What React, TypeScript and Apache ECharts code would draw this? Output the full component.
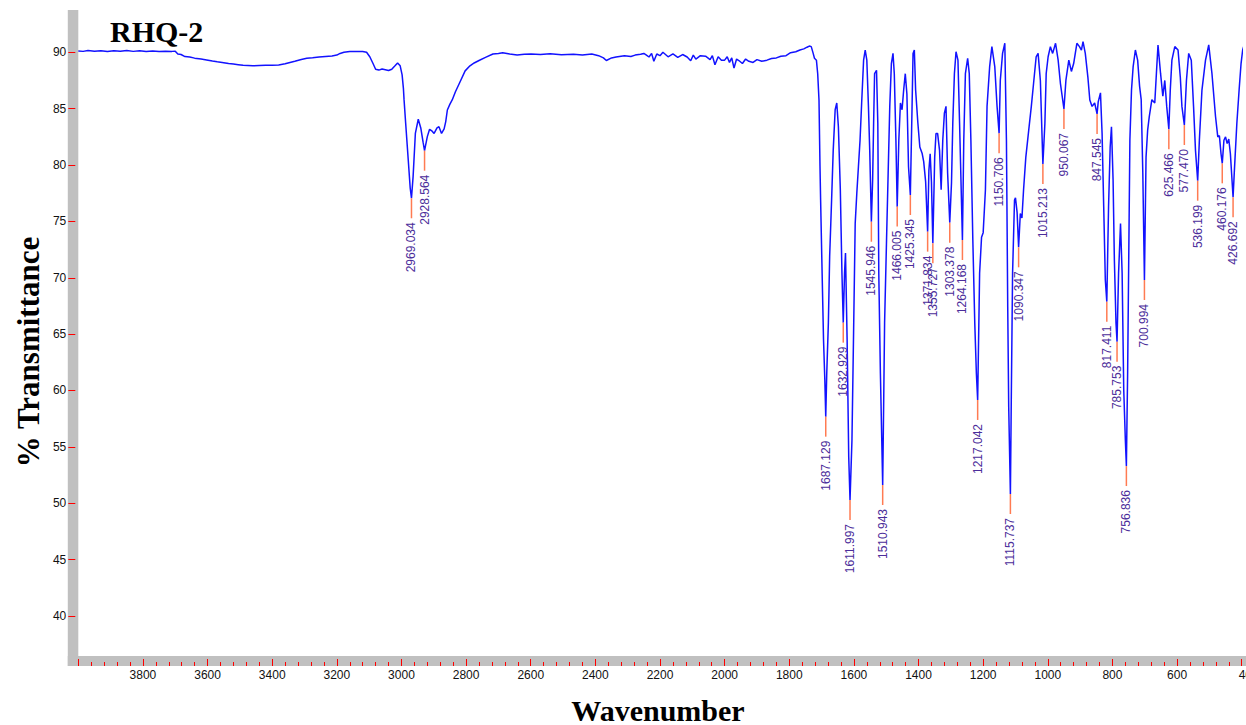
import React, { useEffect, useRef } from "react";
import * as echarts from "echarts";

// FT-IR spectrum of sample RHQ-2: [wavenumber (cm-1), % transmittance]
const baselineRegion: [number, number][] = [
  [4000, 90.12], [3985, 90.08], [3970, 90.16], [3950, 90.1], [3930, 90.14], [3910, 90.06],
  [3890, 90.14], [3870, 90.1], [3850, 90.15], [3830, 90.08], [3810, 90.13], [3790, 90.07],
  [3770, 90.12], [3750, 90.06], [3730, 90.1], [3710, 90.08], [3700, 90.1], [3692, 89.85],
  [3682, 89.8], [3670, 89.62], [3655, 89.58], [3640, 89.48], [3620, 89.4], [3603, 89.32],
  [3585, 89.22], [3570, 89.15], [3550, 89.08], [3535, 89.0], [3520, 88.95], [3505, 88.9],
  [3490, 88.84], [3475, 88.82], [3460, 88.8], [3440, 88.83], [3420, 88.86], [3400, 88.84],
  [3380, 88.88], [3360, 88.98], [3345, 89.1], [3330, 89.2], [3310, 89.36], [3293, 89.47],
  [3275, 89.52], [3255, 89.58], [3235, 89.63], [3215, 89.68], [3200, 89.75], [3190, 89.9],
  [3178, 90.0], [3160, 90.06], [3140, 90.08], [3120, 90.06], [3108, 90.0], [3098, 89.6],
  [3088, 89.0], [3080, 88.5], [3070, 88.42], [3060, 88.52], [3050, 88.45], [3040, 88.38],
  [3030, 88.5], [3020, 88.8], [3012, 89.05], [3004, 88.8], [2998, 88.0], [2994, 86.8],
];

const stretchRegion: [number, number][] = [
  [2992, 85.8], [2987, 83.7], [2979, 80.45], [2973, 77.96], [2969.034, 77.05], [2964, 78.97],
  [2957, 82.8], [2948, 84.06], [2940, 83.26], [2933, 82.0], [2928.564, 81.27], [2920, 82.52],
  [2913, 83.17], [2905, 83.0], [2899, 82.8], [2890, 83.3], [2884, 83.4], [2876, 82.8],
  [2868, 83.2], [2863, 83.85], [2858, 84.88], [2850, 85.4], [2843, 85.77], [2833, 86.5],
  [2820, 87.3], [2803, 88.35], [2788, 88.8], [2775, 89.05], [2760, 89.27], [2740, 89.55],
  [2717, 89.85], [2700, 89.9], [2687, 89.96], [2665, 89.85], [2642, 89.75], [2620, 89.82],
  [2599, 89.85], [2570, 89.8], [2540, 89.86], [2505, 89.78], [2468, 89.82], [2440, 89.76],
  [2411, 89.85], [2390, 89.7], [2375, 89.5], [2366, 89.27], [2350, 89.5], [2336, 89.58],
  [2310, 89.7], [2290, 89.62], [2277, 89.75], [2260, 89.82], [2250, 89.9], [2242, 89.75],
  [2234, 89.58], [2226, 89.9], [2219, 89.2], [2210, 89.85], [2200, 89.7], [2191, 90.0],
  [2175, 89.6], [2160, 89.85], [2145, 89.55], [2130, 89.8], [2116, 89.58], [2105, 89.25],
  [2097, 89.75], [2089, 89.4], [2075, 89.7], [2059, 89.65], [2045, 89.35], [2038, 89.7],
  [2030, 88.9], [2020, 89.6], [2010, 89.3], [2000, 89.3], [1992, 89.6], [1985, 89.1],
  [1978, 89.5], [1971, 88.6], [1963, 89.4], [1956, 89.27], [1945, 89.0], [1935, 89.4],
  [1925, 89.2], [1912, 89.1], [1900, 89.35], [1885, 89.2], [1869, 89.3], [1855, 89.45],
  [1840, 89.5], [1826, 89.65], [1810, 89.7], [1796, 89.96], [1780, 90.05], [1767, 90.2],
  [1755, 90.3], [1745, 90.45], [1738, 90.55],
];

const fingerprintRegion: [number, number][] = [
  [1732, 90.5], [1726, 89.9], [1722, 89.47], [1716, 89.3], [1712, 88.1], [1708, 85.77],
  [1705, 80.0], [1703, 76.9], [1699, 71.3], [1694, 64.5], [1690, 61.0], [1687.129, 57.68],
  [1684, 61.5], [1679, 66.0], [1675, 71.9], [1669, 76.9], [1664, 81.3], [1658, 84.9],
  [1653, 85.5], [1648, 83.4], [1642, 77.8], [1637, 70.4], [1632.929, 66.02], [1629, 70.4],
  [1626, 72.2], [1621, 64.5], [1616, 54.1], [1611.997, 50.29], [1606, 55.6], [1601, 65.1],
  [1596, 74.8], [1591, 77.5], [1586, 79.85], [1581, 82.2], [1576, 85.5], [1570, 89.3],
  [1565, 90.2], [1560, 89.3], [1555, 85.2], [1551, 81.3], [1545.946, 74.97], [1542, 78.7],
  [1539, 83.7], [1536, 88.1], [1530, 88.4], [1526, 83.7], [1523, 70.4], [1518, 61.5],
  [1510.943, 51.62], [1508, 58.6], [1505, 66.0], [1499, 73.35], [1494, 79.3], [1489, 85.2],
  [1484, 89.0], [1479, 89.9], [1475, 88.1], [1470, 82.2], [1466.005, 76.31], [1461, 82.2],
  [1456, 85.5], [1451, 84.9], [1446, 86.65], [1441, 88.1], [1436, 86.3], [1431, 79.85],
  [1425.345, 77.34], [1420, 85.2], [1417, 89.9], [1413, 90.2], [1409, 86.65], [1402, 83.7],
  [1396, 81.6], [1389, 81.05], [1384, 80.3], [1378, 78.5], [1371.834, 74.09], [1368, 79.5],
  [1364, 81.0], [1360, 78.5], [1355.727, 73.06], [1350, 80.7], [1346, 82.8], [1341, 82.8],
  [1335, 81.3], [1330, 77.8], [1325, 82.2], [1320, 84.6], [1315, 85.2], [1310, 79.3],
  [1303.378, 74.89], [1298, 78.4], [1294, 83.7], [1289, 88.1], [1284, 90.05], [1278, 89.3],
  [1273, 83.7], [1264.168, 73.35], [1260, 82.2], [1255, 88.1], [1248, 89.47], [1243, 88.1],
  [1238, 82.2], [1232, 73.35], [1226, 66.0], [1221, 61.5], [1217.042, 59.16], [1211, 70.4],
  [1205, 73.6], [1200, 74.0], [1193, 77.8], [1188, 85.2], [1180, 88.7], [1173, 90.5],
  [1164, 88.7], [1157, 85.2], [1150.706, 82.81], [1147, 87.5], [1140, 89.9], [1133, 90.8],
  [1128, 82.2], [1124, 67.4], [1121, 58.6], [1115.737, 50.82], [1113, 59.2], [1109, 70.4],
  [1103, 76.9], [1100, 77.1], [1095, 75.8], [1090.347, 72.7], [1085, 75.7], [1080, 75.3],
  [1075, 77.8], [1068, 80.7], [1059, 83.1], [1051, 85.2], [1044, 87.25], [1036, 89.6],
  [1030, 89.9], [1023, 87.5], [1015.213, 80.09], [1009, 83.7], [1005, 88.1], [999, 89.6],
  [992, 90.5], [985, 89.9], [976, 90.8], [968, 89.3], [961, 87.25], [950.067, 84.97],
  [944, 87.5], [935, 89.3], [927, 88.3], [920, 89.0], [910, 90.8], [902, 90.5],
  [896, 90.2], [891, 90.94], [884, 89.9], [876, 87.8], [870, 85.77], [863, 85.2],
  [855, 85.5], [847.545, 84.53], [844, 85.6], [837, 86.4], [832, 82.8], [827, 76.3],
  [822, 69.8], [817.411, 67.88], [812, 76.3], [807, 81.6], [803, 83.4], [798, 78.7],
  [794, 71.6], [789, 66.0], [785.753, 64.33], [781, 70.4], [775, 74.8], [770, 70.4],
  [765, 60.05], [760, 55.6], [756.836, 53.3], [753, 61.5], [749, 73.35], [746, 82.2],
  [741, 86.65], [736, 88.7], [729, 90.2], [722, 89.3], [716, 87.0], [711, 85.8],
  [706, 79.3], [700.994, 69.8], [696, 80.7], [691, 83.1], [686, 84.3], [678, 85.8],
  [669, 85.5], [664, 88.1], [659, 90.65], [651, 88.1], [644, 86.1], [638, 87.5],
  [632, 85.2], [625.466, 83.17], [621, 86.65], [616, 89.3], [607, 90.5], [597, 90.2],
  [590, 87.8], [585, 85.2], [577.47, 83.55], [571, 87.5], [564, 89.9], [556, 89.3],
  [549, 85.2], [543, 81.3], [536.199, 78.61], [531, 82.2], [523, 86.65], [512, 89.3],
  [502, 90.65], [492, 88.1], [481, 84.3], [474, 82.5], [469, 82.6], [464, 81.0],
  [460.176, 80.15], [455, 82.2], [450, 82.5], [445, 81.9], [440, 82.3], [435, 81.0],
  [426.692, 77.14], [423, 79.3], [415, 83.7], [408, 86.65], [402, 89.0], [397, 90.2],
  [393, 90.6],
];

// Picked absorption bands
const peakWavenumbers = [
  2969.034, 2928.564, 1687.129, 1632.929, 1611.997, 1545.946, 1510.943, 1466.005,
  1425.345, 1371.834, 1355.727, 1303.378, 1264.168, 1217.042, 1150.706, 1115.737,
  1090.347, 1015.213, 950.067, 847.545, 817.411, 785.753, 756.836, 700.994,
  625.466, 577.47, 536.199, 460.176, 426.692,
];
const peakTransmittance = [
  77.05, 81.27, 57.68, 66.02, 50.29, 74.97, 51.62, 76.31,
  77.34, 74.09, 73.06, 74.89, 73.35, 59.16, 82.81, 50.82,
  72.7, 80.09, 84.97, 84.53, 67.88, 64.33, 53.3, 69.8,
  83.17, 83.55, 78.61, 80.15, 77.14,
];

const yTickValues = [40, 45, 50, 55, 60, 65, 70, 75, 80, 85, 90];

const spectrum = [...baselineRegion, ...stretchRegion, ...fingerprintRegion];
const peaks = peakWavenumbers.map((w, i) => [w, peakTransmittance[i]]);

const SANS = "'Liberation Sans', Arial, sans-serif";
const SERIF = "'Liberation Serif', 'Times New Roman', serif";
const FRAME = "#c0c0c0";
const TICK = "#ff0000";

const W = 1246;
const H = 725;
const GRID_LEFT = 78.3;
const GRID_RIGHT = 4.3;
const GRID_TOP = 10;
const GRID_BOTTOM = 69;
const BAR = 10.5;

export default function App() {
  const ref = useRef<HTMLDivElement>(null);

  useEffect(() => {
    if (!ref.current) return;
    const chart = echarts.init(ref.current, undefined, { renderer: "svg" });

    chart.setOption({
      animation: false,
      grid: {
        left: GRID_LEFT,
        right: GRID_RIGHT,
        top: GRID_TOP,
        bottom: GRID_BOTTOM,
        containLabel: false,
        outerBoundsMode: "none",
      },
      xAxis: {
        type: "value",
        inverse: true,
        min: 400,
        max: 4000,
        interval: 200,
        position: "bottom",
        offset: 10,
        z: 10,
        axisLine: { show: false },
        axisTick: { show: true, inside: true, length: 7, lineStyle: { color: TICK, width: 1 } },
        minorTick: { show: true, splitNumber: 5, length: 4, lineStyle: { color: TICK, width: 1 } },
        splitLine: { show: false },
        minorSplitLine: { show: false },
        axisLabel: {
          margin: 3,
          fontSize: 12,
          fontFamily: SANS,
          color: "#111",
          formatter: (v: number) => (v === 4000 ? "" : v === 400 ? "{edge|400}" : String(v)),
          rich: { edge: { fontSize: 12, fontFamily: SANS, color: "#111", padding: [0, 0, 0, 14] } },
        },
      },
      yAxis: {
        type: "value",
        min: 36.45,
        max: 93.75,
        position: "left",
        offset: 10,
        z: 10,
        axisLine: { show: false },
        axisTick: {
          show: true,
          inside: true,
          length: 7,
          customValues: yTickValues,
          lineStyle: { color: TICK, width: 1 },
        },
        splitLine: { show: false },
        axisLabel: {
          margin: 2,
          fontSize: 12,
          fontFamily: SANS,
          color: "#111",
          customValues: yTickValues,
        },
      },
      graphic: {
        elements: [
          {
            type: "rect",
            z: 0,
            silent: true,
            shape: { x: GRID_LEFT - BAR, y: GRID_TOP, width: BAR, height: H - GRID_BOTTOM - GRID_TOP + 10 },
            style: { fill: FRAME },
          },
          {
            type: "rect",
            z: 0,
            silent: true,
            shape: { x: GRID_LEFT - BAR, y: H - GRID_BOTTOM, width: W - GRID_LEFT + BAR, height: 10 },
            style: { fill: FRAME },
          },
          {
            type: "text",
            x: 110,
            y: 31,
            style: { text: "RHQ-2", font: `bold 30px ${SERIF}`, fill: "#000", align: "left", verticalAlign: "middle" },
          },
          {
            type: "text",
            x: 28,
            y: 352,
            rotation: Math.PI / 2,
            style: { text: "% Transmittance", font: `bold 31px ${SERIF}`, fill: "#000", align: "center", verticalAlign: "middle" },
          },
          {
            type: "text",
            x: 658,
            y: 710,
            style: { text: "Wavenumber", font: `bold 30px ${SERIF}`, fill: "#000", align: "center", verticalAlign: "middle" },
          },
        ],
      },
      series: [
        {
          type: "line",
          data: spectrum,
          showSymbol: false,
          clip: false,
          lineStyle: { color: "#1212ff", width: 1.5 },
          z: 2,
        },
        {
          type: "custom",
          data: peaks,
          z: 3,
          renderItem: (params: any, api: any) => {
            const pt = api.coord([api.value(0), api.value(1)]);
            const label = peakWavenumbers[params.dataIndex].toFixed(3);
            return {
              type: "group",
              children: [
                {
                  type: "line",
                  shape: { x1: pt[0], y1: pt[1], x2: pt[0], y2: pt[1] + 20 },
                  style: { stroke: "#ff7b52", lineWidth: 1.5 },
                },
                {
                  type: "text",
                  x: pt[0],
                  y: pt[1] + 24,
                  rotation: Math.PI / 2,
                  style: {
                    text: label,
                    fill: "#4b2d9a",
                    fontSize: 12,
                    fontFamily: SANS,
                    align: "right",
                    verticalAlign: "middle",
                  },
                },
              ],
            };
          },
        },
      ],
    });

    return () => chart.dispose();
  }, []);

  return (
    <div
      ref={ref}
      style={{ position: "fixed", left: 0, top: 0, width: W, height: H, background: "#fff" }}
    />
  );
}
